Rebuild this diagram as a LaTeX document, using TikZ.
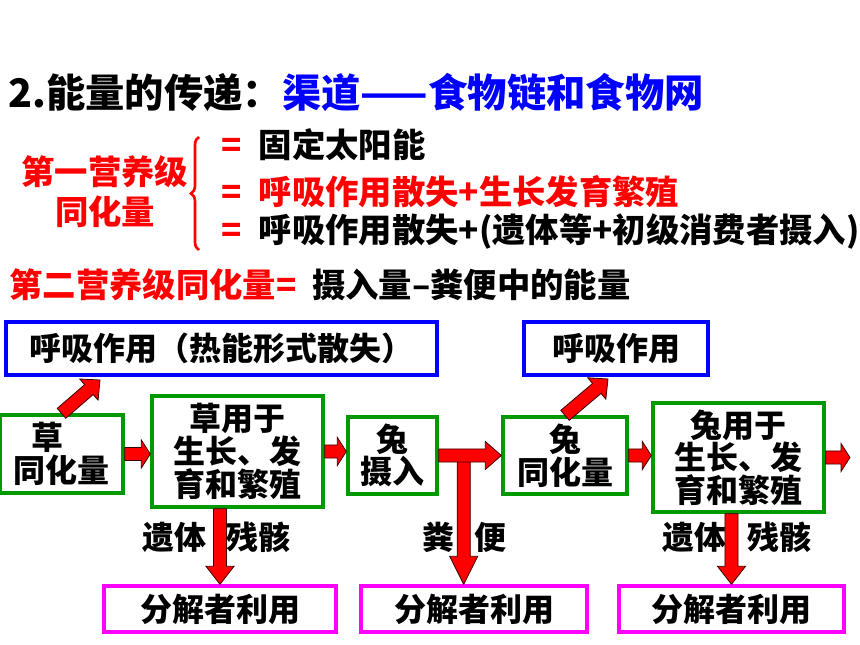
\documentclass[tikz,border=0pt]{standalone}
\usepackage{fontspec}
\setmainfont{Noto Sans CJK SC}
\usetikzlibrary{calc,decorations.pathreplacing}

\tikzset{
	arrow shaft/.store in=\faShaft,
	arrow shaft = 4.9pt,
	arrow head/.store in=\faHead,
	arrow head = 10.5pt}
\tikzset{every picture/.style={line width=0.75pt}}
\tikzset{
	wh/.style 2 args={minimum width=#1*0.75pt, minimum height=#2*0.75pt},
	box/.style={line width=2.5pt, inner sep=0pt, align=center, font=\bfseries\fontsize{24}{24.5}\selectfont},
	heat/.style={box, draw={rgb, 255:red, 0; green, 0; blue, 255 }},
	stock/.style={box, draw={rgb, 255:red, 0; green, 153; blue, 0 }},
	decomp/.style={box, draw={rgb, 255:red, 255; green, 0; blue, 255 }},
	fat/.style={draw={rgb, 255:red, 60; green, 0; blue, 0 }, line width=0.6pt, fill={rgb, 255:red, 255; green, 0; blue, 0 }},
	lbl/.style={inner sep=0pt, font=\bfseries\fontsize{24}{24}\selectfont},
	txt/.style={inner sep=0pt, anchor=west, font=\bfseries\fontsize{25}{30}\selectfont}}

% fat red arrow: [head length] from, to
\newcommand{\fatarrow}[3][6.75pt]{%
	\coordinate (fa-h) at ($(#3)!#1!(#2)$);
	\draw [fat] ($(#2)!\faShaft!90:(#3)$) -- ($(fa-h)!\faShaft!-90:(#2)$) -- ($(fa-h)!\faHead!-90:(#2)$) -- (#3) -- ($(fa-h)!\faHead!90:(#2)$) -- ($(fa-h)!\faShaft!90:(#2)$) -- ($(#2)!\faShaft!-90:(#3)$) -- cycle ;}

\begin{document}
\begin{tikzpicture}[x=0.75pt,y=0.75pt,yscale=-1,xscale=1]
	\useasboundingbox (0,0) rectangle (860,645);

	% Title
	\node (title) [txt, font=\bfseries\fontsize{29.5}{30}\selectfont] at (8,92) {2.能量的传递：{\color{blue}渠道——食物链和食物网}};
	% First trophic level
	\node (first) [inner sep=0pt, align=center, text=red, font=\bfseries\fontsize{25}{30}\selectfont] at (105,192) {第一营养级\\同化量};
	\draw [red, line width=2pt, decorate, decoration={brace, amplitude=6pt}] (199,250) -- (199,137) ;
	\node (eqa) [txt] at (221,145) {\makebox[28pt][l]{\color{red}=}固定太阳能};
	\node (eqb) [txt, text=red] at (221,192) {\makebox[28pt][l]{=}呼吸作用散失+生长发育繁殖};
	\node (eqc) [txt] at (221,232) {\makebox[28pt][l]{\color{red}=}呼吸作用散失+(遗体等+初级消费者摄入)};
	% Second trophic level
	\node (second) [txt] at (9,285) {{\color{red}第二营养级同化量\makebox[27pt][l]{=}}摄入量–粪便中的能量};

	% Boxes
	\node (heat1) [heat, wh={431}{53}] at (221.5,348.5) {呼吸作用（热能形式散失）};
	\node (heat2) [heat, wh={184}{53}] at (616,348.5) {呼吸作用};
	\node (grass) [stock, wh={123}{78}, align=left] at (61.5,454) {\hspace{0.55em}草\\同化量};
	\node (grassuse) [stock, wh={171}{111}] at (237.5,451.5) {草用于\\生长、发\\育和繁殖};
	\node (eat) [stock, wh={89}{77}] at (392.5,455.5) {兔\\摄入};
	\node (rabbit) [stock, wh={124}{77}] at (565,455.5) {兔\\同化量};
	\node (rabbituse) [stock, wh={171}{109}] at (738.5,457.5) {兔用于\\生长、发\\育和繁殖};
	\node (dec1) [decomp, wh={232}{46}] at (220,609) {分解者利用};
	\node (dec2) [decomp, wh={226}{46}] at (474,609) {分解者利用};
	\node (dec3) [decomp, wh={225}{46}] at (731.5,609) {分解者利用};

	% Labels
	\node (rem1) [lbl] at (174,537) {遗体};
	\node (bone1) [lbl] at (258,537) {残骸};
	\node (dung1) [lbl] at (438,537) {粪};
	\node (dung2) [lbl] at (490,537) {便};
	\node (rem2) [lbl] at (694,537) {遗体};
	\node (bone2) [lbl] at (779,537) {残骸};

	% Arrows
	\coordinate (up1) at (100,380);
	\coordinate (up2) at (608,379);
	\coordinate (fork) at ($(eat.east)!0.4!(rabbit.west)$);
	\coordinate (out) at (850,457.5);
	\fatarrow[11pt]{grass.north}{up1}
	\fatarrow[11pt]{rabbit.north}{up2}
	\fatarrow{grass.east}{grass.east -| grassuse.west}
	\fatarrow{grassuse.east}{grassuse.east -| eat.west}
	\fatarrow[21pt]{fork}{fork |- dec2.north}
	\fatarrow[12pt]{eat.east}{rabbit.west}
	\fatarrow{rabbit.east}{rabbit.east -| rabbituse.west}
	\fatarrow{rabbituse.east}{out}
	\fatarrow[13.5pt]{dec1.north |- grassuse.south}{dec1.north}
	\fatarrow[13.5pt]{dec3.north |- rabbituse.south}{dec3.north}

\end{tikzpicture}
\end{document}
